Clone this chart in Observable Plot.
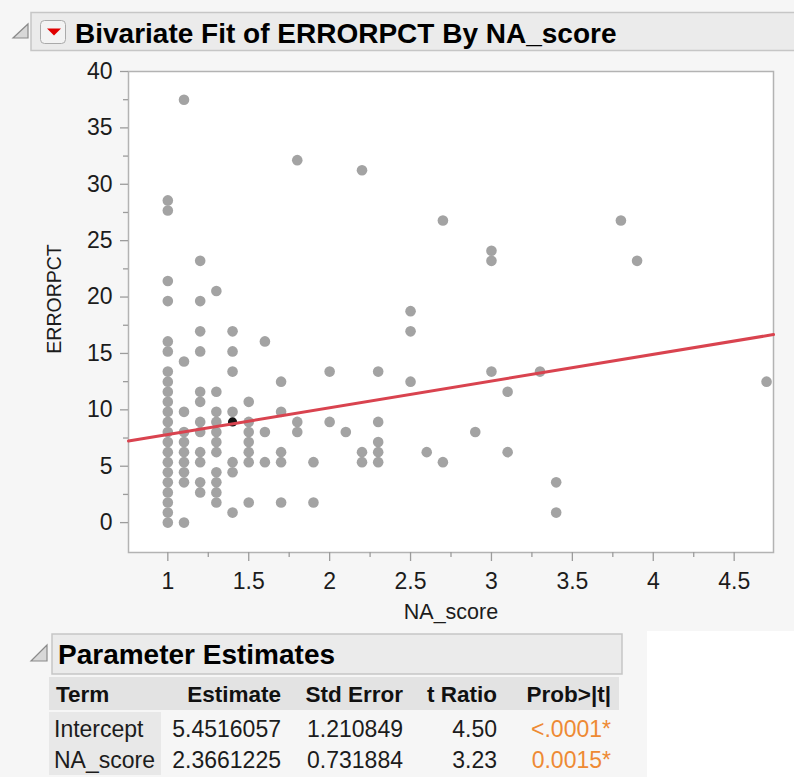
<!DOCTYPE html>
<html>
<head>
<meta charset="utf-8">
<script src="https://cdn.jsdelivr.net/npm/d3@7"></script>
<script src="https://cdn.jsdelivr.net/npm/@observablehq/plot@0.6"></script>
<style>
html, body { margin: 0; padding: 0; }
body { width: 794px; height: 777px; background: #f6f6f6; position: relative; overflow: hidden; font-family: "Liberation Sans", Arial, sans-serif; }
#chrome { position: absolute; left: 0; top: 0; }
#plot { position: absolute; left: 0; top: 60px; }
</style>
</head>
<body>
<svg id="chrome" width="794" height="777" xmlns="http://www.w3.org/2000/svg"></svg>
<div id="plot"></div>
<script>
// ---- Data ----
const naScore = [
  1,1,1,1,1,1,1,1,1,1,1,1,1,1,1,1,1,1,1,1,1,1,
  1.1,1.1,1.1,1.1,1.1,1.1,1.1,1.1,1.1,1.1,
  1.2,1.2,1.2,1.2,1.2,1.2,1.2,1.2,1.2,1.2,1.2,1.2,
  1.3,1.3,1.3,1.3,1.3,1.3,1.3,1.3,1.3,1.3,1.3,
  1.4,1.4,1.4,1.4,1.4,1.4,1.4,
  1.5,1.5,1.5,1.5,1.5,1.5,1.5,
  1.6,1.6,1.6,
  1.7,1.7,1.7,1.7,1.7,
  1.8,1.8,1.8,
  1.9,1.9,
  2.0,2.0,
  2.1,
  2.2,2.2,2.2,
  2.3,2.3,2.3,2.3,2.3,
  2.5,2.5,2.5,
  2.6,
  2.7,2.7,
  2.9,
  3.0,3.0,3.0,
  3.1,3.1,
  3.3,
  3.4,3.4,
  3.8,
  3.9,
  4.7
];
const errorPct = [
  28.57,27.68,21.43,19.64,16.07,15.18,13.39,12.5,11.61,10.71,9.82,8.93,8.04,7.14,6.25,5.36,4.46,3.57,2.68,1.79,0.89,0,
  37.5,14.29,9.82,8.04,7.14,6.25,5.36,4.46,3.57,0,
  23.21,19.64,16.96,15.18,11.61,10.71,8.93,8.04,6.25,5.36,3.57,2.68,
  20.54,11.61,9.82,8.93,8.04,7.14,6.25,4.46,3.57,2.68,1.79,
  16.96,15.18,13.39,9.82,5.36,4.46,0.89,
  10.71,8.93,8.04,7.14,6.25,5.36,1.79,
  16.07,8.04,5.36,
  12.5,9.82,6.25,5.36,1.79,
  32.14,8.93,8.04,
  5.36,1.79,
  13.39,8.93,
  8.04,
  31.25,6.25,5.36,
  13.39,8.93,7.14,6.25,5.36,
  18.75,16.96,12.5,
  6.25,
  26.79,5.36,
  8.04,
  24.11,23.21,13.39,
  11.61,6.25,
  13.39,
  3.57,0.89,
  26.79,
  23.21,
  12.5
];
const selectedNA = [1.4];
const selectedErr = [8.93];

const terms = ["Intercept", "NA_score"];
const estimates = ["5.4516057", "2.3661225"];
const stdErrors = ["1.210849", "0.731884"];
const tRatios = ["4.50", "3.23"];
const probs = ["<.0001*", "0.0015*"];
const tableHeaders = ["Term", "Estimate", "Std Error", "t Ratio", "Prob>|t|"];

const yTicks = [0, 5, 10, 15, 20, 25, 30, 35, 40];
const yMinorTicks = [2.5, 7.5, 12.5, 17.5, 22.5, 27.5, 32.5, 37.5];
const xTicks = [1, 1.5, 2, 2.5, 3, 3.5, 4, 4.5];
const xMinorTicks = [1.25, 1.75, 2.25, 2.75, 3.25, 3.75, 4.25];
const xDomain = [0.757, 4.743];
const yDomain = [-2.65, 40];

const xLabel = "NA_score";
const yLabel = "ERRORPCT";
const titleText = "Bivariate Fit of ERRORPCT By NA_score";
const sectionTitle = "Parameter Estimates";

// ---- Build tables for Plot ----
const points = naScore.map((v, i) => ({na: v, err: errorPct[i]}));
const selected = selectedNA.map((v, i) => ({na: v, err: selectedErr[i]}));
const b0 = +estimates[0], b1 = +estimates[1];
const fit = xDomain.map(x => ({na: x, err: b0 + b1 * x}));

const FONT = "'Liberation Sans', Arial, sans-serif";
const fmt = d => String(d);

const chart = Plot.plot({
  width: 794,
  height: 570,
  marginTop: 11,
  marginBottom: 78,
  marginLeft: 128,
  marginRight: 21,
  style: {fontFamily: FONT, fontSize: "23px", color: "#1c1c1c", background: "transparent", overflow: "visible"},
  x: {domain: xDomain},
  y: {domain: yDomain},
  marks: [
    Plot.frame({fill: "white", stroke: "#b3b3b3", strokeWidth: 1.5}),
    Plot.axisY({ticks: yMinorTicks, tickSize: 5, tickFormat: () => "", stroke: "#9c9c9c", strokeWidth: 1.3, label: null}),
    Plot.axisY({ticks: yTicks, tickSize: 8, tickPadding: 8, tickFormat: fmt, stroke: "#9c9c9c", strokeWidth: 1.3, label: null}),
    Plot.axisX({ticks: xMinorTicks, tickSize: 5, tickFormat: () => "", stroke: "#9c9c9c", strokeWidth: 1.3, label: null}),
    Plot.axisX({ticks: xTicks, tickSize: 9, tickPadding: 11, tickFormat: fmt, stroke: "#9c9c9c", strokeWidth: 1.3, label: null}),
    Plot.text([yLabel], {text: d => d, frameAnchor: "left", textAnchor: "middle", dx: -74, dy: -13, rotate: -90, lineAnchor: "middle", fontSize: 19.5}),
    Plot.text([xLabel], {text: d => d, frameAnchor: "bottom", textAnchor: "middle", dy: 60, lineAnchor: "middle", fontSize: 21.5}),
    Plot.dot(points, {x: "na", y: "err", r: 5.3, fill: "#a3a3a3"}),
    Plot.dot(selected, {x: "na", y: "err", r: 4.6, fill: "#111"}),
    Plot.line(fit, {x: "na", y: "err", stroke: "#d9434f", strokeWidth: 3})
  ]
});
document.getElementById("plot").appendChild(chart);

// ---- Chrome: title bar, section header, table ----
const svg = d3.select("#chrome");
svg.append("rect").attr("x", 647).attr("y", 631).attr("width", 147).attr("height", 146).attr("fill", "#ffffff");

// title bar
svg.append("rect").attr("x", 31).attr("y", 12.5).attr("width", 780).attr("height", 38)
  .attr("fill", "#ebebeb").attr("stroke", "#c6c6c6").attr("stroke-width", 1.5);
svg.append("polygon").attr("points", "13,38 28,38 28,24").attr("fill", "#d8d8d8").attr("stroke", "#8a8a8a").attr("stroke-width", 1.2);
svg.append("rect").attr("x", 40.5).attr("y", 20.5).attr("width", 25).attr("height", 23).attr("rx", 4)
  .attr("fill", "#f3f3f3").attr("stroke", "#aaaaaa").attr("stroke-width", 1);
svg.append("polygon").attr("points", "47,28.5 61,28.5 54,35.5").attr("fill", "#e00000");
svg.append("text").attr("x", 75).attr("y", 43).attr("font-family", FONT).attr("font-weight", "bold")
  .attr("font-size", 28).attr("fill", "#000").text(titleText);

// section header
svg.append("rect").attr("x", 52).attr("y", 634).attr("width", 570).attr("height", 40)
  .attr("fill", "#ebebeb").attr("stroke", "#c6c6c6").attr("stroke-width", 1.5);
svg.append("polygon").attr("points", "31,661 47,661 47,645").attr("fill", "#d8d8d8").attr("stroke", "#8a8a8a").attr("stroke-width", 1.2);
svg.append("text").attr("x", 58).attr("y", 664).attr("font-family", FONT).attr("font-weight", "bold")
  .attr("font-size", 28).attr("fill", "#000").text(sectionTitle);

// table
svg.append("rect").attr("x", 49).attr("y", 677).attr("width", 570).attr("height", 33).attr("fill", "#e3e3e3");
svg.append("rect").attr("x", 49).attr("y", 712).attr("width", 112).attr("height", 63).attr("fill", "#e8e8e8");

const colRight = [null, 281, 403, 497, 611];
const headerY = 702;
const rowY = [737, 768];
tableHeaders.forEach((h, j) => {
  const t = svg.append("text").attr("y", headerY).attr("font-family", FONT).attr("font-weight", "bold")
    .attr("font-size", 22.5).attr("fill", "#111").text(h);
  if (j === 0) t.attr("x", 56); else t.attr("x", colRight[j]).attr("text-anchor", "end");
});
terms.forEach((term, i) => {
  const cells = [term, estimates[i], stdErrors[i], tRatios[i], probs[i]];
  cells.forEach((c, j) => {
    const t = svg.append("text").attr("y", rowY[i]).attr("font-family", FONT)
      .attr("font-size", 23).attr("fill", j === 4 ? "#ee8a34" : "#1c1c1c").text(c);
    if (j === 0) t.attr("x", 54); else t.attr("x", colRight[j]).attr("text-anchor", "end");
  });
});
</script>
</body>
</html>
